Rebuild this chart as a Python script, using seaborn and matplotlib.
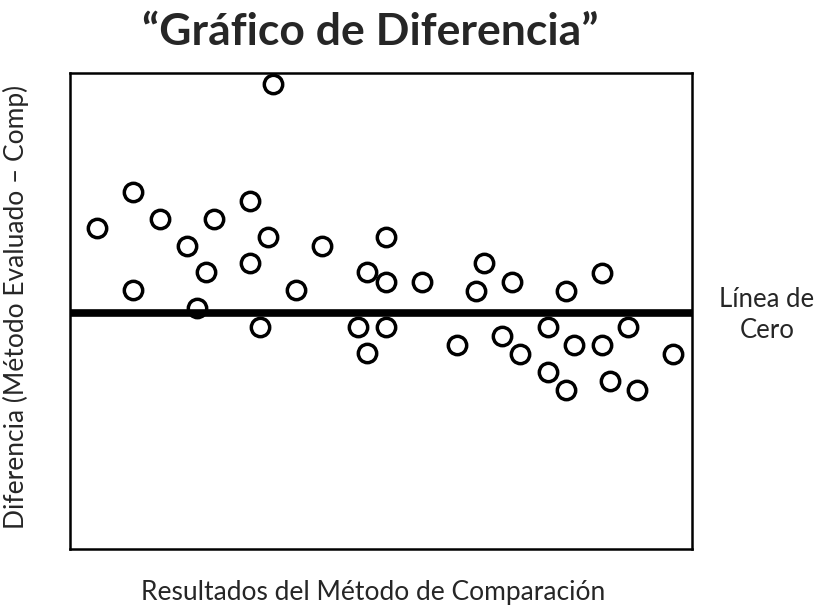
import matplotlib
matplotlib.use("Agg")
import matplotlib.pyplot as plt
import seaborn as sns
import pandas as pd

# Comparative method results (x) and differences evaluated - comp (y)
comp_results = [4.3, 10.1, 14.5, 23.2, 18.8, 21.9, 28.9, 31.8, 28.9, 10.1,
                20.4, 30.5, 36.3, 40.5, 32.6, 47.7, 46.3, 47.7, 50.8, 50.8,
                56.6, 66.6, 65.3, 71.1, 79.7, 85.5, 50.8, 62.2, 69.5, 72.3,
                76.8, 81.0, 85.5, 89.7, 96.9, 76.8, 79.7, 86.8, 91.2]
differences = [3.54, 5.04, 3.92, 3.92, 2.79, 1.71, 4.67, 3.17, 2.08, 0.96,
               0.21, -0.58, 0.96, 2.79, 9.54, 1.71, -0.58, -1.67, 3.17, 1.29,
               1.29, 2.08, 0.92, 1.29, 0.92, 1.67, -0.58, -1.33, -0.96, -1.71,
               -0.58, -1.33, -1.33, -0.58, -1.71, -2.46, -3.21, -2.83, -3.21]

title = "\u201cGráfico de Diferencia\u201d"
x_label = "Resultados del Método de Comparación"
y_label = "Diferencia (Método Evaluado – Comp)"
zero_label = "Línea de\nCero"

sns.set_theme(style="white")
plt.rcParams["font.family"] = ["Lato", "DejaVu Sans"]

df = pd.DataFrame({"comp": comp_results, "diff": differences})

fig = plt.figure(figsize=(8.22, 6.05), dpi=100)
ax = fig.add_axes([0.0852, 0.0926, 0.7567, 0.7868])

sns.scatterplot(data=df, x="comp", y="diff", ax=ax, s=175,
                facecolor="white", edgecolor="black", linewidth=2.5,
                zorder=2)
ax.axhline(0, color="black", lw=5.5, zorder=3)

ax.set_xlim(0, 100)
ax.set_ylim(-9.83, 10)
ax.set_xticks([])
ax.set_yticks([])
ax.set_xlabel("")
ax.set_ylabel("")
for sp in ax.spines.values():
    sp.set_visible(True)
    sp.set_color("black")
    sp.set_linewidth(1.8)

fig.text(0.451, 0.947, title, ha="center", va="center",
         fontsize=32, fontweight="bold")
fig.text(0.454, 0.008, x_label, ha="center", va="baseline", fontsize=19)
fig.text(0.019, 0.492, y_label, ha="center", va="center", rotation=90,
         fontsize=19)
fig.text(0.933, 0.479, zero_label, ha="center", va="center",
         fontsize=18.5, multialignment="center", linespacing=1.3)

fig.savefig("out.png", dpi=100)
